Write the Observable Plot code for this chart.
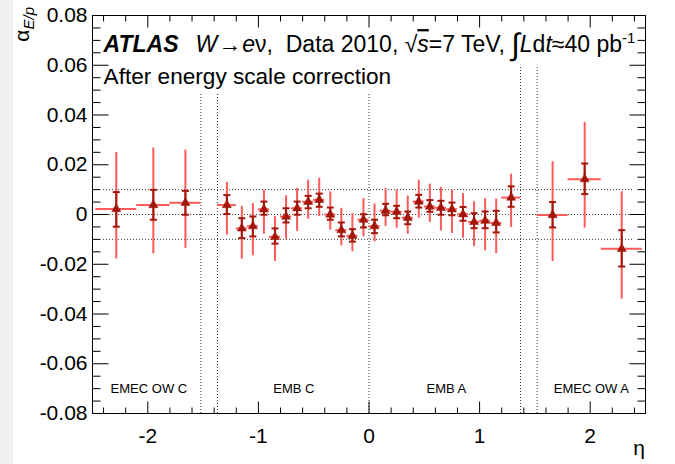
<!DOCTYPE html>
<html><head><meta charset="utf-8">
<script src="https://cdn.jsdelivr.net/npm/d3@7"></script>
<script src="https://cdn.jsdelivr.net/npm/@observablehq/plot@0.6"></script>
<style>
body{margin:0;background:#fff;}
#wrap{position:relative;width:675px;height:464px;overflow:hidden;}
#strip{position:absolute;left:0;top:0;width:13px;height:464px;background:#eef0f1;}
#chart{position:absolute;left:0;top:0;}
</style></head><body><div id="wrap"><div id="strip"></div><div id="chart"></div></div>
<script>
// Bin edges in eta
const etaLo = [-2.47,-2.1,-1.8, -1.37,-1.2,-1.1,-1.0,-0.9,-0.8,-0.7,-0.6,-0.5,-0.4,-0.3,-0.2,-0.1,
               0.0,0.1,0.2,0.3,0.4,0.5,0.6,0.7,0.8,0.9,1.0,1.1,1.2, 1.52,1.8,2.1];
const etaHi = [-2.1,-1.8,-1.52, -1.2,-1.1,-1.0,-0.9,-0.8,-0.7,-0.6,-0.5,-0.4,-0.3,-0.2,-0.1,0.0,
               0.1,0.2,0.3,0.4,0.5,0.6,0.7,0.8,0.9,1.0,1.1,1.2,1.37, 1.8,2.1,2.47];
// alpha_E/p values
const alphaVal = [0.0022,0.0038,0.0047, 0.0038,-0.0056,-0.0047,0.0021,-0.0090,-0.0008,0.0025,0.0051,0.0059,0.0000,-0.0063,-0.0086,-0.0021,
                  -0.0047,0.0015,0.0011,-0.0013,0.0052,0.0032,0.0027,0.0021,0.0001,-0.0030,-0.0025,-0.0034,0.0068, -0.0002,0.0142,-0.0138];
// statistical error band ends
const statLo = [-0.0049,-0.0021,-0.0001, 0.0002,-0.0095,-0.0088,-0.0001,-0.0117,-0.0032,-0.0001,0.0025,0.0031,-0.0021,-0.0088,-0.0109,-0.0052,
                -0.0075,-0.0003,-0.0015,-0.0039,0.0028,0.0011,-0.0001,-0.0003,-0.0025,-0.0055,-0.0055,-0.0072,0.0031, -0.0052,0.0082,-0.0209];
const statHi = [0.0090,0.0099,0.0095, 0.0078,-0.0015,-0.0008,0.0052,-0.0056,0.0025,0.0052,0.0075,0.0084,0.0028,-0.0032,-0.0059,0.0001,
                -0.0021,0.0043,0.0035,0.0012,0.0079,0.0058,0.0055,0.0048,0.0030,0.0005,0.0012,0.0015,0.0113, 0.0050,0.0205,-0.0063];
// total (stat+syst) error ends
const totLo = [-0.0179,-0.0159,-0.0136, -0.0083,-0.0180,-0.0166,-0.0079,-0.0189,-0.0100,-0.0068,-0.0019,-0.0008,-0.0063,-0.0126,-0.0150,-0.0090,
               -0.0110,-0.0048,-0.0055,-0.0079,-0.0015,-0.0032,-0.0066,-0.0076,-0.0095,-0.0129,-0.0146,-0.0157,-0.0052, -0.0189,-0.0055,-0.0340];
const totHi = [0.0249,0.0267,0.0259, 0.0129,0.0032,0.0044,0.0098,-0.0009,0.0075,0.0105,0.0138,0.0146,0.0091,0.0025,0.0004,0.0064,
               0.0042,0.0105,0.0098,0.0074,0.0138,0.0122,0.0109,0.0098,0.0084,0.0051,0.0064,0.0062,0.0162, 0.0212,0.0370,0.0091];

// Reference lines
const hRefs = [0.01, 0.0, -0.01];
const vRefs = [-1.52, -1.37, 0, 1.37, 1.52];
const vRefTop = [0.0488, 0.0488, 0.0488, 0.06, 0.06];
// Region labels
const regionNames = ["EMEC OW C", "EMB C", "EMB A", "EMEC OW A"];
const regionEta = [-1.99, -0.68, 0.70, 2.01];
const regionY = -0.07;
// Axis ticks
const yMajor = [-0.08,-0.06,-0.04,-0.02,0,0.02,0.04,0.06,0.08];
const xMajor = [-2,-1,0,1,2];
const xDomain = [-2.5, 2.5], yDomain = [-0.08, 0.08];

const points = etaLo.map((lo, i) => ({
  lo, hi: etaHi[i], c: (lo + etaHi[i]) / 2, v: alphaVal[i],
  sLo: statLo[i], sHi: statHi[i], tLo: totLo[i], tHi: totHi[i]
}));
const yMinor = d3.range(-0.08, 0.0801, 0.005).filter(d => !yMajor.some(m => Math.abs(m - d) < 1e-9));
const xMinor = d3.range(-2.4, 2.41, 0.2).filter(d => !xMajor.some(m => Math.abs(m - d) < 1e-9));

const light = "#ff5a5a", dark = "#a3160a";
const lineShape = {draw(ctx, l) { ctx.moveTo(0, 0); ctx.lineTo(0, -l); }};
const tickOpts = {shape: lineShape, stroke: "#000", strokeWidth: 1, fill: "none", strokeLinecap: "butt", anchor: "start"};

const plot = Plot.plot({
  width: 675, height: 464,
  marginLeft: 92, marginRight: 30, marginTop: 15, marginBottom: 51,
  style: {fontFamily: "'Liberation Sans', Arial, sans-serif", fontSize: "21px", color: "#000", background: "transparent", overflow: "visible"},
  x: {domain: xDomain},
  y: {domain: yDomain},
  marks: [
    Plot.ruleY(hRefs, {y: d => d, x1: -2.4, x2: 2.4, stroke: "#333", strokeDasharray: "1,2"}),
    Plot.ruleX(vRefs, {x: d => d, y1: yDomain[0], y2: (d, i) => vRefTop[i], stroke: "#333", strokeDasharray: "1,2"}),
    Plot.text(regionNames, {x: (d, i) => regionEta[i], y: regionY, text: d => d, fontSize: 13, fill: "#000"}),
    Plot.ruleY(points, {y: "v", x1: "lo", x2: "hi", stroke: light, strokeWidth: 2}),
    Plot.ruleX(points, {x: "c", y1: "tLo", y2: "tHi", stroke: light, strokeWidth: 2}),
    Plot.ruleX(points, {x: "c", y1: "sLo", y2: "sHi", stroke: dark, strokeWidth: 2}),
    Plot.vector(points, {x: "c", y: "sLo", length: 7, rotate: 90, anchor: "middle", shape: lineShape, stroke: dark, strokeWidth: 2, fill: "none", strokeLinecap: "butt"}),
    Plot.vector(points, {x: "c", y: "sHi", length: 7, rotate: 90, anchor: "middle", shape: lineShape, stroke: dark, strokeWidth: 2, fill: "none", strokeLinecap: "butt"}),
    Plot.dot(points, {x: "c", y: "v", symbol: "triangle", r: 3.4, fill: dark, stroke: dark, strokeWidth: 0.5}),
    Plot.frame({stroke: "#000", strokeWidth: 1}),
    // inward ticks on all four sides
    Plot.vector(yMajor, {...tickOpts, x: xDomain[0], y: d => d, rotate: 90, length: 16}),
    Plot.vector(yMinor, {...tickOpts, x: xDomain[0], y: d => d, rotate: 90, length: 8}),
    Plot.vector(yMajor, {...tickOpts, x: xDomain[1], y: d => d, rotate: -90, length: 16}),
    Plot.vector(yMinor, {...tickOpts, x: xDomain[1], y: d => d, rotate: -90, length: 8}),
    Plot.vector(xMajor, {...tickOpts, x: d => d, y: yDomain[0], rotate: 0, length: 12}),
    Plot.vector(xMinor, {...tickOpts, x: d => d, y: yDomain[0], rotate: 0, length: 6}),
    Plot.vector(xMajor, {...tickOpts, x: d => d, y: yDomain[1], rotate: 180, length: 12}),
    Plot.vector(xMinor, {...tickOpts, x: d => d, y: yDomain[1], rotate: 180, length: 6}),
    Plot.axisY(yMajor, {tickSize: 0, tickPadding: 5, label: null, tickFormat: d => d === 0 ? "0" : d.toFixed(2), fontSize: 21}),
    Plot.axisX(xMajor, {tickSize: 0, tickPadding: 15, label: null, tickFormat: d => String(d), fontSize: 21})
  ]
});
document.getElementById("chart").appendChild(plot);

// Rich-text annotations (real SVG text)
const sx = plot.scale("x"), sy = plot.scale("y");
const svg = d3.select(plot);
const font = "'Liberation Sans', Arial, sans-serif";
const t1 = svg.append("text").attr("x", sx.apply(-2.395)).attr("y", sy.apply(0.0651))
  .attr("text-anchor", "start").attr("font-family", font).attr("font-size", 23).attr("fill", "#000");
t1.append("tspan").attr("font-weight", "bold").attr("font-style", "italic").text("ATLAS");
t1.append("tspan").attr("dx", 17).attr("font-style", "italic").text("W");
t1.append("tspan").attr("dx", 1).text("\u2192");
t1.append("tspan").attr("dx", 1).attr("font-style", "italic").text("e");
t1.append("tspan").text("\u03bd,  Data 2010, \u221a");
t1.append("tspan").attr("font-style", "italic").style("text-decoration", "overline").text("s");
t1.append("tspan").text("=7 TeV, ");
t1.append("tspan").attr("font-size", 31).attr("dy", 3).text("\u222b");
t1.append("tspan").attr("dy", -3).attr("font-style", "italic").text("L");
t1.append("tspan").text("d");
t1.append("tspan").attr("font-style", "italic").text("t");
t1.append("tspan").text("\u224840 pb");
t1.append("tspan").attr("font-size", 15).attr("dy", -9).text("-1");

svg.append("text").attr("x", sx.apply(-2.395)).attr("y", sy.apply(0.0523))
  .attr("text-anchor", "start").attr("font-family", font).attr("font-size", 22.6).attr("fill", "#000")
  .text("After energy scale correction");

// y-axis title
const yt = svg.append("text").attr("transform", "translate(29,7) rotate(-90)")
  .attr("text-anchor", "end").attr("font-family", font).attr("font-size", 21).attr("fill", "#000");
yt.append("tspan").text("\u03b1");
yt.append("tspan").attr("font-size", 15).attr("dy", 5).attr("font-style", "italic").text("E/p");

// x-axis title
svg.append("text").attr("x", sx.apply(xDomain[1])).attr("y", 455).attr("text-anchor", "end")
  .attr("font-family", font).attr("font-size", 21).attr("fill", "#000").text("\u03b7");
</script></body></html>
